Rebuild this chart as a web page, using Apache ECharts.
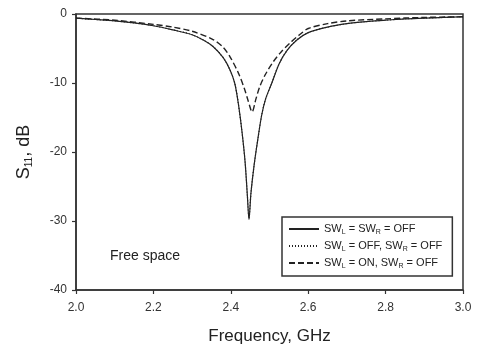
<!DOCTYPE html>
<html>
<head>
<meta charset="utf-8">
<script src="https://cdn.jsdelivr.net/npm/echarts@6/dist/echarts.min.js"></script>
<style>
html,body{margin:0;padding:0;background:#fff;}
#c{width:479px;height:350px;}
</style>
</head>
<body>
<div id="c"></div>
<script>
// Frequency (GHz) and S11 (dB)
const freqDeep = [2.00, 2.05, 2.10, 2.15, 2.20, 2.25, 2.30, 2.33, 2.354, 2.38, 2.398, 2.41, 2.419, 2.429, 2.437, 2.443, 2.447, 2.452, 2.46, 2.47, 2.48, 2.49, 2.506, 2.525, 2.545, 2.57, 2.60, 2.65, 2.70, 2.75, 2.80, 2.85, 2.90, 2.95, 3.00];
const s11Solid = [-0.6, -0.8, -1.0, -1.3, -1.7, -2.3, -3.0, -3.8, -4.7, -6.3, -8.1, -10.0, -12.8, -17.1, -21.5, -26.5, -29.8, -26.0, -22.0, -18.1, -14.6, -12.3, -10.0, -7.2, -5.3, -3.8, -2.7, -1.9, -1.4, -1.1, -0.9, -0.7, -0.6, -0.5, -0.4];
const s11Dotted = [-0.6, -0.8, -1.0, -1.3, -1.7, -2.3, -3.0, -3.8, -4.7, -6.3, -8.1, -10.0, -12.8, -17.1, -21.5, -26.5, -29.6, -26.0, -22.0, -18.1, -14.6, -12.3, -10.0, -7.2, -5.3, -3.8, -2.7, -1.9, -1.4, -1.1, -0.9, -0.7, -0.6, -0.5, -0.4];
const freqDashed = [2.00, 2.10, 2.20, 2.25, 2.30, 2.354, 2.38, 2.398, 2.42, 2.435, 2.445, 2.455, 2.465, 2.475, 2.49, 2.51, 2.53, 2.555, 2.58, 2.60, 2.65, 2.70, 2.80, 2.90, 3.00];
const s11Dashed = [-0.6, -0.9, -1.5, -1.9, -2.5, -3.7, -4.8, -6.2, -8.6, -10.8, -12.6, -14.2, -12.3, -10.5, -8.7, -6.9, -5.5, -4.1, -2.9, -2.1, -1.4, -1.0, -0.7, -0.5, -0.4];
const xTicks = {min: 2.0, max: 3.0, step: 0.2};
const yTicks = {min: -40, max: 0, step: 10};
const seriesNames = ['SW_L = SW_R = OFF', 'SW_L = OFF, SW_R = OFF', 'SW_L = ON, SW_R = OFF'];
const annotation = 'Free space';

function pairs(xs, ys){ return xs.map((x,i)=>[x, ys[i]]); }
function legendRich(name){
  return name.replace(/SW_([LR])/g, '{m|SW}{s|$1}').replace(/([^}]+)(?=\{|$)/g, function(m){ return m.indexOf('{')===0 ? m : '{m|'+m+'}'; });
}

const chart = echarts.init(document.getElementById('c'), null, {renderer:'canvas'});
const font = 'Liberation Sans, Arial, sans-serif';
const axisCol = '#333';
const lineCol = '#222';
const richStyles = {
  m: {fontSize: 11, fontFamily: font, color: '#222', lineHeight: 14},
  s: {fontSize: 7, fontFamily: font, color: '#222', lineHeight: 14, verticalAlign: 'bottom', padding: [6,0,0,0]}
};

chart.setOption({
  animation: false,
  backgroundColor: '#fff',
  grid: {left: 76, right: 16, top: 14, bottom: 58, show: true, borderColor: axisCol, borderWidth: 1.5, backgroundColor: 'transparent'},
  xAxis: {
    type: 'value', min: xTicks.min, max: xTicks.max, interval: xTicks.step,
    name: 'Frequency, GHz', nameLocation: 'middle', nameGap: 38,
    nameTextStyle: {fontSize: 17, fontFamily: font, color: '#222'},
    axisLine: {onZero: false, lineStyle: {color: axisCol, width: 1.5}},
    axisTick: {show: true, inside: false, length: 4, lineStyle: {color: axisCol, width: 1.2}},
    axisLabel: {fontSize: 12, fontFamily: font, color: '#333', margin: 12, formatter: v => v.toFixed(1)},
    splitLine: {show: false}
  },
  yAxis: {
    type: 'value', min: yTicks.min, max: yTicks.max, interval: yTicks.step,
    name: '{a|S}{b|11}{a|, dB}', nameLocation: 'middle', nameGap: 42, nameRotate: 90,
    nameTextStyle: {rich: {
      a: {fontSize: 18, fontFamily: font, color: '#222', lineHeight: 20},
      b: {fontSize: 10, fontFamily: font, color: '#222', lineHeight: 20, verticalAlign: 'bottom', padding: [8,0,0,0]}
    }},
    axisLine: {onZero: false, lineStyle: {color: axisCol, width: 1.5}},
    axisTick: {show: true, inside: false, length: 4, lineStyle: {color: axisCol, width: 1.2}},
    axisLabel: {fontSize: 12, fontFamily: font, color: '#333', margin: 9},
    splitLine: {show: false}
  },
  legend: {
    orient: 'vertical', left: 282, top: 217,
    padding: [6, 10, 6, 6], itemGap: 4, itemWidth: 30, itemHeight: 10,
    borderColor: axisCol, borderWidth: 1.5, backgroundColor: '#fff',
    data: seriesNames,
    itemStyle: {opacity: 0},
    formatter: name => legendRich(name),
    textStyle: {rich: richStyles}
  },
  graphic: [{
    type: 'text', left: 110, top: 249,
    style: {text: annotation, fontSize: 14, fontFamily: font, fill: '#222'}
  }],
  series: [
    {name: seriesNames[0], type: 'line', data: pairs(freqDeep, s11Solid), symbol: 'none', smooth: 0.3,
     lineStyle: {color: lineCol, width: 1.2, type: 'solid'}, itemStyle: {color: lineCol}},
    {name: seriesNames[1], type: 'line', data: pairs(freqDeep, s11Dotted), symbol: 'none', smooth: 0.3,
     lineStyle: {color: lineCol, width: 1.2, type: [1, 2]}, itemStyle: {color: lineCol}},
    {name: seriesNames[2], type: 'line', data: pairs(freqDashed, s11Dashed), symbol: 'none', smooth: 0.3,
     lineStyle: {color: lineCol, width: 1.4, type: [6, 3]}, itemStyle: {color: lineCol}}
  ]
});
</script>
</body>
</html>
